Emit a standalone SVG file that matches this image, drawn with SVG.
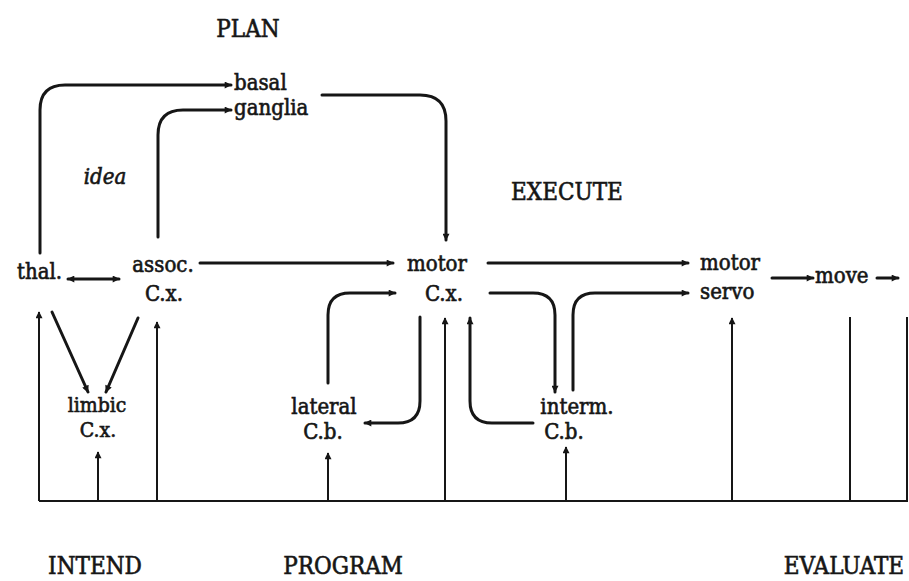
<svg xmlns="http://www.w3.org/2000/svg" width="909" height="581" viewBox="0 0 909 581">
<style>
  text { font-family: "DejaVu Serif", "Liberation Serif", serif; font-stretch: condensed; fill: #161616; stroke: #161616; stroke-width: 0.6; }
  .lbl { font-size: 22px; }
  .sm { font-size: 21px; }
  .cap { font-size: 24px; }
  .it { font-style: italic; font-size: 22px; }
  .c { fill: none; stroke: #161616; stroke-width: 3; stroke-linecap: round; stroke-linejoin: round; }
  .f { fill: none; stroke: #161616; stroke-width: 2; }
</style>
<defs>
  <marker id="ah" viewBox="0 0 10 10" refX="9" refY="5" markerWidth="9" markerHeight="7" markerUnits="userSpaceOnUse" orient="auto-start-reverse">
    <path d="M0,0 L10,5 L0,10 z" fill="#161616"/>
  </marker>
</defs>
<rect width="909" height="581" fill="#ffffff"/>

<g id="stage-labels">
  <text class="cap" x="248" y="37" text-anchor="middle">PLAN</text>
  <text class="cap" x="567" y="200" text-anchor="middle">EXECUTE</text>
  <text class="cap" x="95" y="574" text-anchor="middle">INTEND</text>
  <text class="cap" x="343" y="574" text-anchor="middle">PROGRAM</text>
  <text class="cap" x="844" y="574" text-anchor="middle">EVALUATE</text>
  <text class="it" x="105" y="184" text-anchor="middle">idea</text>
</g>

<g id="basal-ganglia">
  <text class="lbl" x="234" y="90">basal</text>
  <text class="lbl" x="234" y="115">ganglia</text>
</g>
<g id="thal">
  <text class="lbl" x="17" y="279">thal.</text>
</g>
<g id="assoc-cx">
  <text class="lbl" x="163" y="272" text-anchor="middle">assoc.</text>
  <text class="lbl" x="164" y="301" text-anchor="middle">C.x.</text>
</g>
<g id="motor-cx">
  <text class="lbl" x="437" y="271" text-anchor="middle">motor</text>
  <text class="lbl" x="444" y="301" text-anchor="middle">C.x.</text>
</g>
<g id="motor-servo">
  <text class="lbl" x="700" y="270">motor</text>
  <text class="lbl" x="700" y="299">servo</text>
</g>
<g id="move">
  <text class="lbl" x="815" y="283">move</text>
</g>
<g id="limbic-cx">
  <text class="sm" x="97" y="412" text-anchor="middle">limbic</text>
  <text class="sm" x="98" y="437" text-anchor="middle">C.x.</text>
</g>
<g id="lateral-cb">
  <text class="lbl" x="324" y="414" text-anchor="middle">lateral</text>
  <text class="lbl" x="323" y="439" text-anchor="middle">C.b.</text>
</g>
<g id="interm-cb">
  <text class="lbl" x="577" y="414" text-anchor="middle">interm.</text>
  <text class="lbl" x="564" y="439" text-anchor="middle">C.b.</text>
</g>

<g id="connectors">
  <path class="f" d="M39,501 H907 V317"/>
  <path class="f" d="M850,501 V317"/>
  <path class="f" d="M39,501 V312" marker-end="url(#ah)"/>
  <path class="f" d="M98,501 V452" marker-end="url(#ah)"/>
  <path class="f" d="M157,501 V322" marker-end="url(#ah)"/>
  <path class="f" d="M328,501 V453" marker-end="url(#ah)"/>
  <path class="f" d="M445,501 V318" marker-end="url(#ah)"/>
  <path class="f" d="M566,501 V447" marker-end="url(#ah)"/>
  <path class="f" d="M732,501 V318" marker-end="url(#ah)"/>

  <path class="c" d="M40,253 V110 Q40,85 65,85 H231" marker-end="url(#ah)"/>
  <path class="c" d="M158,237 V135 Q158,110 183,110 H231" marker-end="url(#ah)"/>
  <path class="c" d="M322,95 H420 Q446,95 446,121 V240" marker-end="url(#ah)"/>

  <path class="c" d="M68,279 H119" marker-start="url(#ah)" marker-end="url(#ah)"/>
  <path class="c" d="M200,263 H393" marker-end="url(#ah)"/>
  <path class="c" d="M488,263 H688" marker-end="url(#ah)"/>
  <path class="c" d="M772,278 H813" marker-end="url(#ah)"/>
  <path class="c" d="M877,278 H898" marker-end="url(#ah)"/>

  <path class="c" d="M52,312 L88,392" marker-end="url(#ah)"/>
  <path class="c" d="M138,318 L106,392" marker-end="url(#ah)"/>

  <path class="c" d="M328,383 V315 Q328,293 350,293 H395" marker-end="url(#ah)"/>
  <path class="c" d="M420,317 V401 Q420,423 398,423 H365" marker-end="url(#ah)"/>

  <path class="c" d="M533,423 H492 Q470,423 470,401 V318" marker-end="url(#ah)"/>
  <path class="c" d="M490,293 H533 Q555,293 555,315 V392" marker-end="url(#ah)"/>
  <path class="c" d="M573,390 V315 Q573,293 595,293 H688" marker-end="url(#ah)"/>
</g>
</svg>
